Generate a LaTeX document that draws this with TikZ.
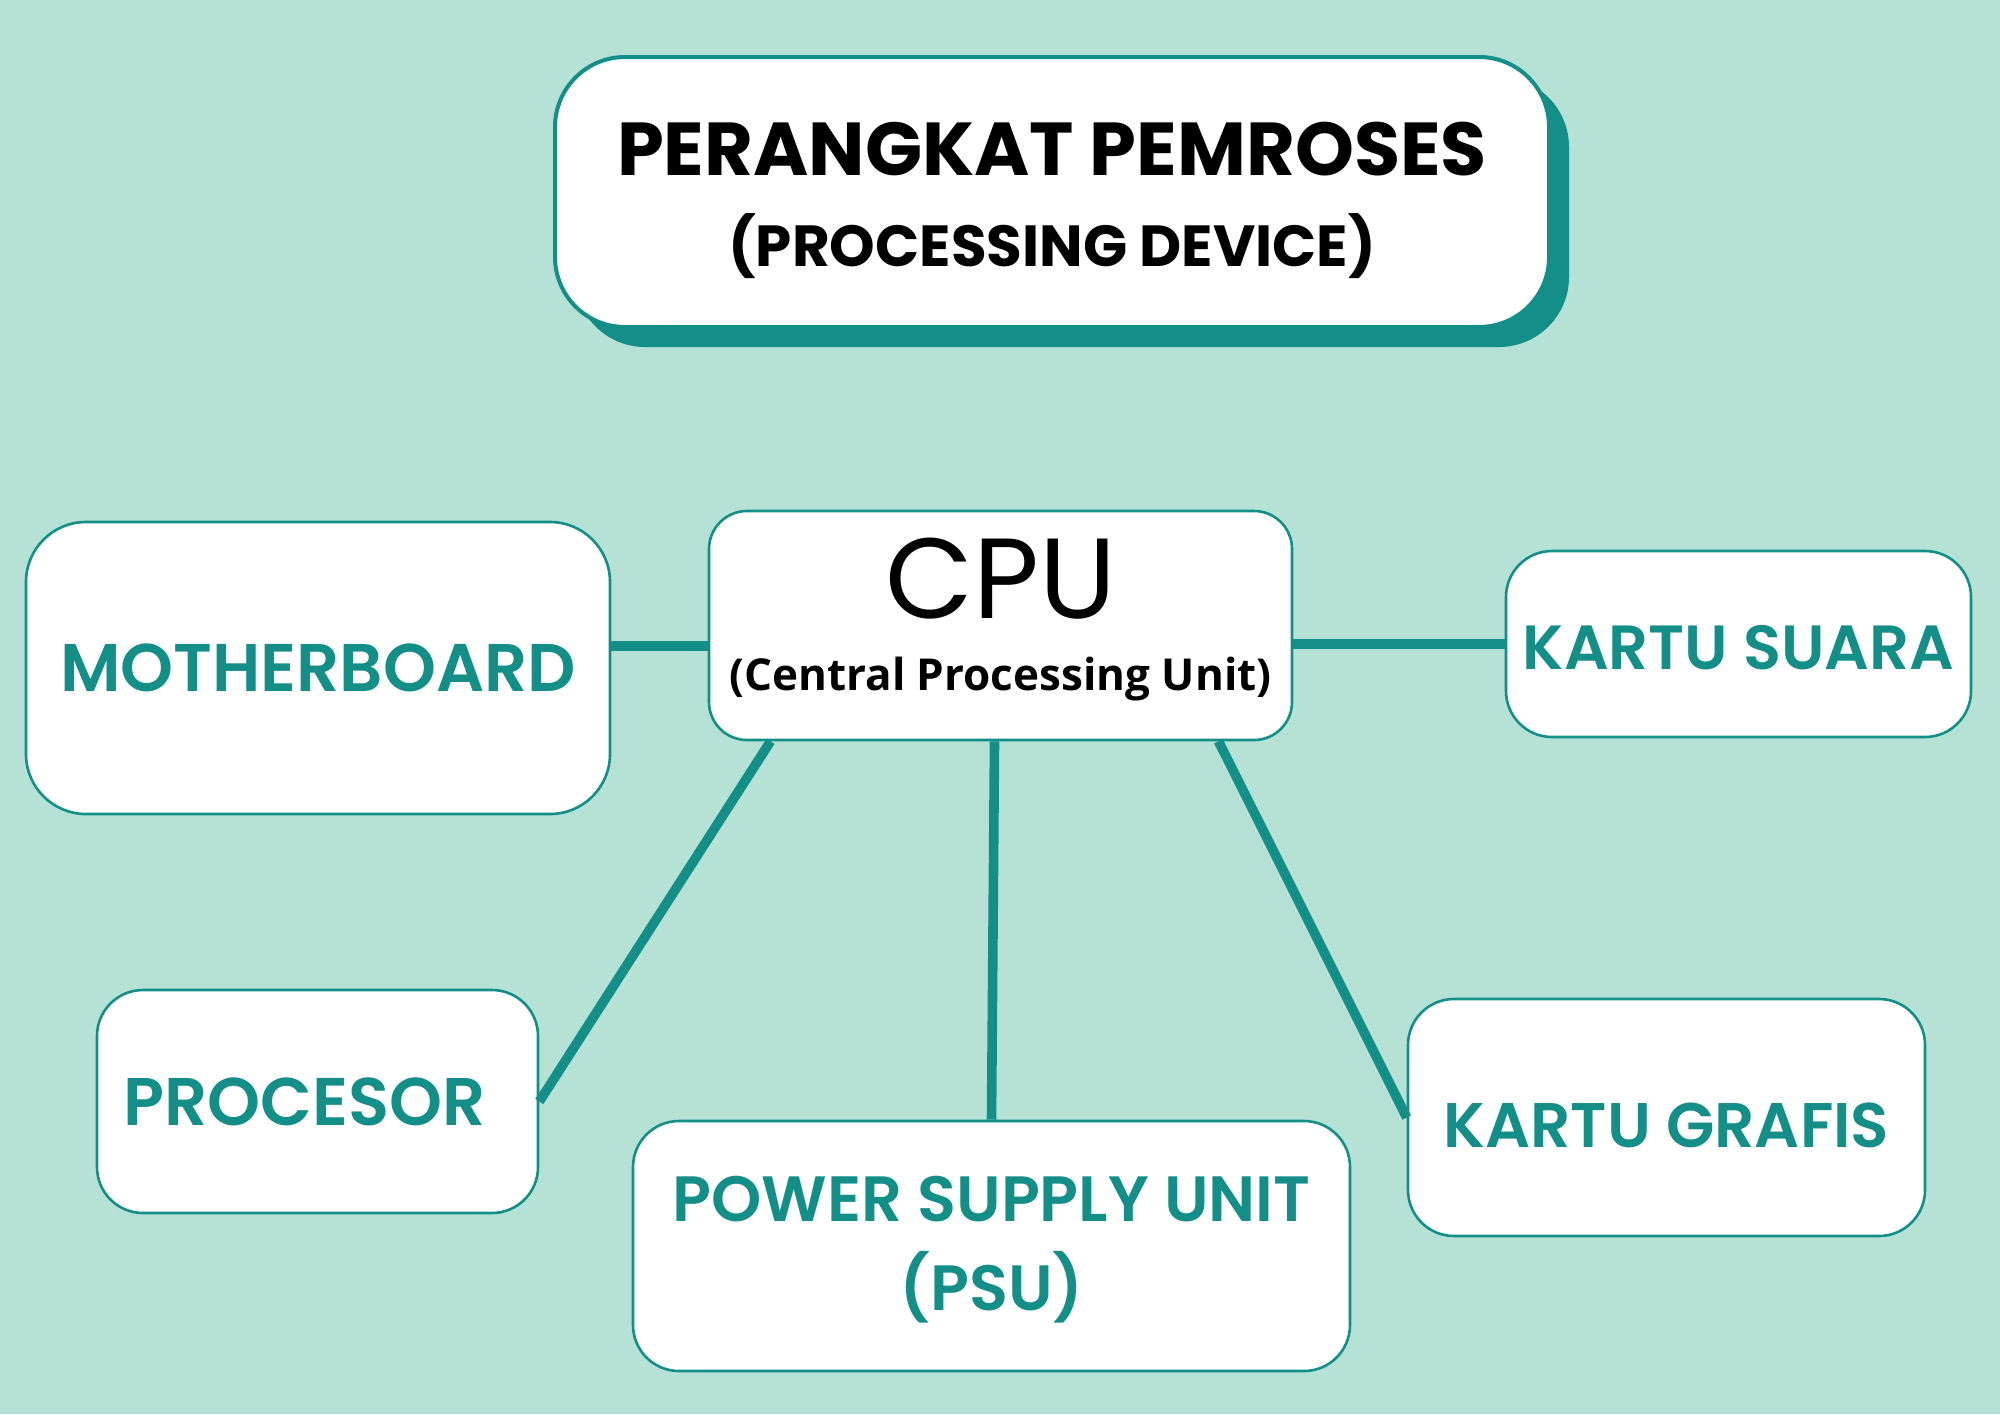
\documentclass[tikz,border=0pt]{standalone}
\usepackage{fontspec}
\setmainfont{Poppins}
\newfontfamily\popsemi{Poppins SemiBold}
\newfontfamily\opensans{Open Sans}
\usetikzlibrary{shadows}

\definecolor{tosca}{HTML}{138F88}
\definecolor{mint}{HTML}{B5E2D4}

\newcommand{\geser}[2]{\raisebox{#1}[\height][\depth]{#2}}

\tikzset{
  box/.style={draw=tosca, line width=1.3pt, fill=white, rounded corners=#1, align=center, inner sep=0pt},
  box/.default=23pt,
  itemtext/.style={text=tosca, font=\fontsize{#1}{44.5}\selectfont\popsemi},
  itemtext/.default=31,
  link/.style={draw=tosca, line width=4.8pt}
}

\begin{document}
\begin{tikzpicture}[x=0.5pt, y=-0.5pt]
  \fill[mint] (0,0) rectangle (2000,1414);
  \useasboundingbox (0,0) rectangle (2000,1414);

  \node[box=35pt, line width=2pt, minimum width=497pt, minimum height=135pt,
        drop shadow={shadow xshift=10pt, shadow yshift=-10pt, opacity=1, fill=tosca},
        font=\fontsize{29}{47.5}\selectfont\bfseries] (judul) at (1052,192)
    {\geser{-5pt}{\fontsize{37.5}{47.5}\selectfont PERANGKAT PEMROSES}\\\geser{-3pt}{(PROCESSING DEVICE)}};

  \node[box=19pt, minimum width=291.5pt, minimum height=114.5pt,
        font=\fontsize{22}{38}\selectfont] (cpu) at (1000.5,625.5)
    {\geser{2pt}{\fontsize{57}{38}\selectfont CPU}\\\geser{4pt}{\opensans\bfseries (Central Processing Unit)}};

  \node[box=30pt, minimum width=292pt, minimum height=146pt, itemtext=33.7] (mobo) at (318,668) {MOTHERBOARD};
  \node[box, minimum width=232.5pt, minimum height=93pt, itemtext=31.2] (suara) at (1738.5,644) {\geser{-2pt}{KARTU SUARA}};
  \node[box, minimum width=220.5pt, minimum height=111.5pt, itemtext=33.7] (procesor) at (317.5,1101.5) {\hspace*{-13pt}PROCESOR};
  \node[box, minimum width=358.5pt, minimum height=125pt, itemtext=32] (psu) at (991.5,1246) {\geser{-2pt}{POWER SUPPLY UNIT}\\\geser{-2pt}{(PSU)}};
  \node[box, minimum width=258.5pt, minimum height=118.5pt, itemtext=31.5] (grafis) at (1666.5,1117.5) {\geser{-4pt}{KARTU GRAFIS}};

  \draw[link] (cpu.184) -- (cpu.184 -| mobo.east);
  \draw[link] (suara.west -| cpu.east) -- (suara.west);
  \draw[link] ([xshift=-115pt]cpu.south) -- (procesor.east);
  \draw[link] ([xshift=-3pt]cpu.south) -- (psu.north);
  \draw[link] ([xshift=109pt]cpu.south) -- (grafis.west);
\end{tikzpicture}
\end{document}
